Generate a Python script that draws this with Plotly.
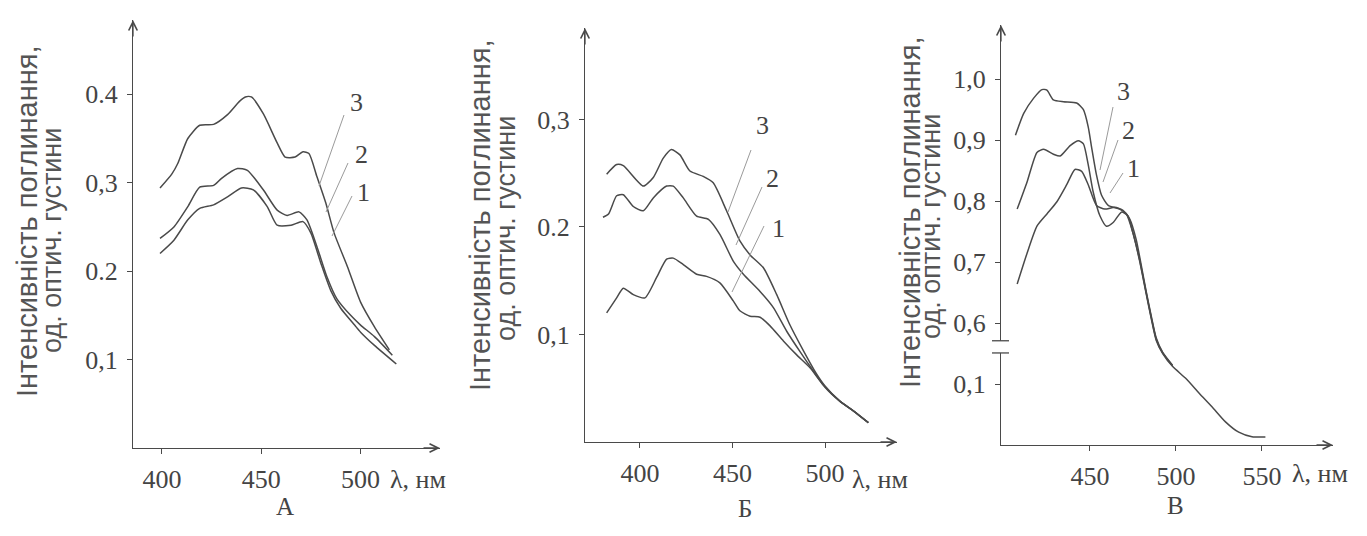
import plotly.graph_objects as go

W, H = 1367, 536

# ---------------- Panel A ----------------
A3_x = [399, 405, 408, 413, 419, 426, 433, 439, 442, 445, 451, 458, 462, 467, 471, 474, 478, 482.5, 486.7, 493.4, 500, 507, 514.5]
A3_y = [0.294, 0.310, 0.322, 0.350, 0.365, 0.366, 0.377, 0.392, 0.397, 0.397, 0.378, 0.345, 0.329, 0.329, 0.335, 0.333, 0.307, 0.277, 0.243, 0.205, 0.165, 0.137, 0.111]
A2_x = [399, 406, 413, 419, 426, 430, 438, 443, 451, 458, 463, 469, 473, 478, 483, 488, 495, 500, 507, 516]
A2_y = [0.237, 0.250, 0.273, 0.295, 0.297, 0.305, 0.316, 0.314, 0.292, 0.269, 0.263, 0.267, 0.258, 0.228, 0.194, 0.169, 0.150, 0.139, 0.126, 0.105]
A1_x = [399, 406, 413, 419, 426, 433, 440, 446, 453, 458, 465, 471, 475, 480, 485, 490, 497, 500, 507, 518]
A1_y = [0.220, 0.235, 0.258, 0.271, 0.275, 0.284, 0.294, 0.292, 0.273, 0.252, 0.252, 0.256, 0.243, 0.209, 0.178, 0.158, 0.139, 0.131, 0.116, 0.095]
A_xticks = [400, 450, 500]
A_yticks = [0.1, 0.2, 0.3, 0.4]
A_yticktext = ["0,1", "0.2", "0,3", "0.4"]

# ---------------- Panel Б ----------------
B3_x = [382, 387.4, 391, 401.8, 407.2, 412.6, 417, 421.6, 427, 434.2, 439.6, 446.8, 454, 459.5, 466.7, 473.9, 481, 488.3, 495.5, 500, 508, 515.3, 523.4]
B3_y = [0.249, 0.258, 0.257, 0.238, 0.246, 0.264, 0.272, 0.267, 0.252, 0.247, 0.241, 0.215, 0.187, 0.174, 0.162, 0.137, 0.109, 0.085, 0.063, 0.052, 0.038, 0.029, 0.018]
B2_x = [380, 383, 387.4, 391, 396.4, 401.8, 407.2, 414.4, 418, 423.4, 430.6, 437, 443.2, 450.5, 455.9, 464.9, 472.1, 479.3, 486.5, 493.7, 500, 508, 515.3, 523.4]
B2_y = [0.209, 0.212, 0.229, 0.230, 0.219, 0.215, 0.227, 0.238, 0.238, 0.227, 0.210, 0.207, 0.193, 0.168, 0.156, 0.140, 0.125, 0.103, 0.084, 0.066, 0.051, 0.038, 0.029, 0.018]
B1_x = [382, 387.4, 391, 396.4, 402.7, 409, 414.4, 418, 423.4, 430.6, 436, 443.2, 450.5, 454, 459.5, 464.9, 470.3, 477.5, 484.7, 491.9, 499.1, 508, 515.3, 523.4]
B1_y = [0.120, 0.134, 0.143, 0.137, 0.134, 0.153, 0.170, 0.171, 0.165, 0.156, 0.154, 0.148, 0.131, 0.122, 0.117, 0.116, 0.108, 0.094, 0.081, 0.069, 0.053, 0.038, 0.029, 0.018]
B_xticks = [400, 450, 500]
B_yticks = [0.1, 0.2, 0.3]
B_yticktext = ["0,1", "0.2", "0,3"]

# ---------------- Panel В (broken y axis) ----------------
C3_x = [406.7, 411.5, 417.3, 422.1, 425, 428.8, 434.6, 442.3, 446.2, 449, 451, 453.8, 456.7, 460.6, 467.3, 471.2, 475, 478.8, 482.7, 485.6, 488.5, 492.3, 498, 505.8, 513.5, 521.2, 528.8, 536.5, 544.2, 552]
C3_y = [0.908, 0.944, 0.969, 0.983, 0.982, 0.966, 0.963, 0.961, 0.950, 0.922, 0.888, 0.843, 0.810, 0.793, 0.787, 0.779, 0.748, 0.703, 0.648, 0.608, 0.572, 0.150, 0.129, 0.109, 0.085, 0.062, 0.038, 0.021, 0.0135, 0.013]
C2_x = [407.7, 413.5, 419.2, 423.1, 428.8, 432.7, 438.5, 443.3, 446.2, 449, 451.9, 455.8, 459.6, 463.5, 468.3, 472.1, 475, 478.8, 482.7, 485.6, 488.5, 492.3, 498]
C2_y = [0.787, 0.832, 0.880, 0.885, 0.877, 0.874, 0.891, 0.899, 0.894, 0.860, 0.815, 0.776, 0.759, 0.765, 0.782, 0.776, 0.748, 0.705, 0.650, 0.610, 0.574, 0.151, 0.130]
C1_x = [407.7, 413.5, 419.2, 425, 430.8, 436.5, 441.3, 445.2, 449, 453.8, 458.7, 464.4, 469.2, 473.1, 476.9, 479.5, 482.7, 485.6, 488.5, 492.3, 498]
C1_y = [0.664, 0.715, 0.759, 0.779, 0.799, 0.827, 0.852, 0.849, 0.827, 0.793, 0.787, 0.790, 0.785, 0.771, 0.737, 0.700, 0.652, 0.612, 0.576, 0.152, 0.131]
C_xticks = [450, 500, 550]
C_yticks = [0.1, 0.6, 0.7, 0.8, 0.9, 1.0]
C_yticktext = ["0,1", "0,6", "0,7", "0,8", "0,9", "1,0"]
C_break_offset = 0.4   # upper segment of the broken axis is shifted down by this


def brk(v):
    return v - C_break_offset if v > 0.3 else v


def px(x):
    return x / W


def py(y):
    return 1 - y / H


LINE = "#4a4a4a"
AX = "#4a4a4a"
TXT = "#444444"
SERIF = "Liberation Serif"
SANS = "Liberation Sans"

fig = go.Figure()

series = [
    ("x", "y", A1_x, A1_y), ("x", "y", A2_x, A2_y), ("x", "y", A3_x, A3_y),
    ("x2", "y2", B1_x, B1_y), ("x2", "y2", B2_x, B2_y), ("x2", "y2", B3_x, B3_y),
    ("x3", "y3", C1_x, [brk(v) for v in C1_y]), ("x3", "y3", C2_x, [brk(v) for v in C2_y]),
    ("x3", "y3", C3_x, [brk(v) for v in C3_y]),
]
for xa, ya, xs, ys in series:
    fig.add_trace(go.Scatter(x=xs, y=ys, xaxis=xa, yaxis=ya, mode="lines",
                             line=dict(color=LINE, width=1.5, shape="spline", smoothing=0.6),
                             showlegend=False, hoverinfo="skip"))

panels = [
    dict(s="", xp=(133, 440), yp=(448, 20), xr=(385.4, 540), yr=(0, 0.484),
         xt=A_xticks, yt=A_yticks, ytt=A_yticktext),
    dict(s="2", xp=(585, 897), yp=(442, 28), xr=(370.3, 538.9), yr=(0, 0.385),
         xt=B_xticks, yt=B_yticks, ytt=B_yticktext),
    dict(s="3", xp=(1001, 1333), yp=(445, 25), xr=(398.3, 591.3), yr=(0, 0.689),
         xt=C_xticks, yt=[brk(v) for v in C_yticks], ytt=C_yticktext),
]

layout = dict(width=W, height=H, margin=dict(l=0, r=0, t=0, b=0),
              paper_bgcolor="white", plot_bgcolor="white", showlegend=False)
annotations = []
shapes = []
for p in panels:
    s = p["s"]
    xdom = [px(p["xp"][0]), px(p["xp"][1])]
    ydom = [py(p["yp"][0]), py(p["yp"][1])]
    layout["xaxis" + s] = dict(domain=xdom, range=list(p["xr"]), anchor="y" + s,
                               showline=True, linecolor=AX, linewidth=1.3, showgrid=False,
                               zeroline=False, ticks="outside", ticklen=5, tickcolor=AX,
                               tickwidth=1.2, tickvals=p["xt"], ticktext=[str(v) for v in p["xt"]],
                               tickfont=dict(family=SERIF, size=26, color=TXT),
                               ticklabelstandoff=3)
    layout["yaxis" + s] = dict(domain=ydom, range=list(p["yr"]), anchor="x" + s,
                               showline=True, linecolor=AX, linewidth=1.3, showgrid=False,
                               zeroline=False, ticks="outside", ticklen=5, tickcolor=AX,
                               tickwidth=1.2, tickvals=p["yt"], ticktext=p["ytt"],
                               tickfont=dict(family=SERIF, size=26, color=TXT),
                               ticklabelstandoff=4)
    xr_name = "x" + s
    yr_name = "y" + s
    annotations.append(dict(x=p["xr"][1], y=p["yr"][0], xref=xr_name, yref=yr_name,
                            ax=-18, ay=0, text="", showarrow=True, arrowhead=5,
                            arrowsize=1.3, arrowwidth=1.3, arrowcolor=AX))
    annotations.append(dict(x=p["xr"][0], y=p["yr"][1], xref=xr_name, yref=yr_name,
                            ax=0, ay=18, text="", showarrow=True, arrowhead=5,
                            arrowsize=1.3, arrowwidth=1.3, arrowcolor=AX))

# break marks on panel В y axis
shapes.append(dict(type="rect", xref="paper", yref="y3", x0=px(996), x1=px(1006),
                   y0=0.151, y1=0.171, fillcolor="white", line=dict(width=0), layer="above"))
for yb in (0.151, 0.171):
    shapes.append(dict(type="line", xref="paper", yref="y3", x0=px(992), x1=px(1009),
                       y0=yb, y1=yb, line=dict(color=AX, width=1.3), layer="above"))

# y-axis titles (two lines each)
ytitles = [((27, 221), (52, 241)), ((480, 215), (506, 229)), ((910, 212), (931, 227))]
for (l1, l2) in ytitles:
    annotations.append(dict(x=px(l1[0]), y=py(l1[1]), xref="paper", yref="paper",
                            text="Інтенсивність поглинання,", showarrow=False, textangle=-90,
                            font=dict(family=SANS, size=29, color="#555555"),
                            xanchor="center", yanchor="middle"))
    annotations.append(dict(x=px(l2[0]), y=py(l2[1]), xref="paper", yref="paper",
                            text="од. оптич. густини", showarrow=False, textangle=-90,
                            font=dict(family=SANS, size=27, color="#555555"),
                            xanchor="center", yanchor="middle"))

# x unit labels
for (ux, uy) in [(388, 479), (850, 479), (1290, 473)]:
    annotations.append(dict(x=px(ux), y=py(uy), xref="paper", yref="paper", text="λ, нм",
                            showarrow=False, font=dict(family=SERIF, size=26, color=TXT),
                            xanchor="left", yanchor="middle"))

# panel letters
for (t, lx, ly) in [("А", 285, 506), ("Б", 745, 508), ("В", 1175, 505)]:
    annotations.append(dict(x=px(lx), y=py(ly), xref="paper", yref="paper", text=t,
                            showarrow=False, font=dict(family=SERIF, size=25, color=TXT),
                            xanchor="center", yanchor="middle"))

# curve number labels and leader lines
num_labels = [
    ("3", 356, 103), ("2", 361, 154), ("1", 363, 193),
    ("3", 762, 125), ("2", 772, 178), ("1", 778, 228),
    ("3", 1123, 92), ("2", 1128, 130), ("1", 1133, 168),
]
for (t, lx, ly) in num_labels:
    annotations.append(dict(x=px(lx), y=py(ly), xref="paper", yref="paper", text=t,
                            showarrow=False, font=dict(family=SERIF, size=26, color=TXT),
                            xanchor="center", yanchor="middle"))

leaders = [
    ((344, 115), (319, 186)), ((348, 163), (326, 212)), ((352, 196), (332, 236)),
    ((751, 150), (728, 212)), ((762, 187), (736, 245)), ((764, 226), (732, 292)),
    ((1113, 107), (1100, 170)), ((1118, 140), (1103, 182)), ((1123, 173), (1110, 193)),
]
for (a, b) in leaders:
    shapes.append(dict(type="line", xref="paper", yref="paper", x0=px(a[0]), y0=py(a[1]),
                       x1=px(b[0]), y1=py(b[1]), line=dict(color="#9a9a9a", width=1)))

layout["annotations"] = annotations
layout["shapes"] = shapes
fig.update_layout(**layout)
fig.write_html("out.html", config={"displayModeBar": False},
               post_script="document.body.style.margin='0px';")
